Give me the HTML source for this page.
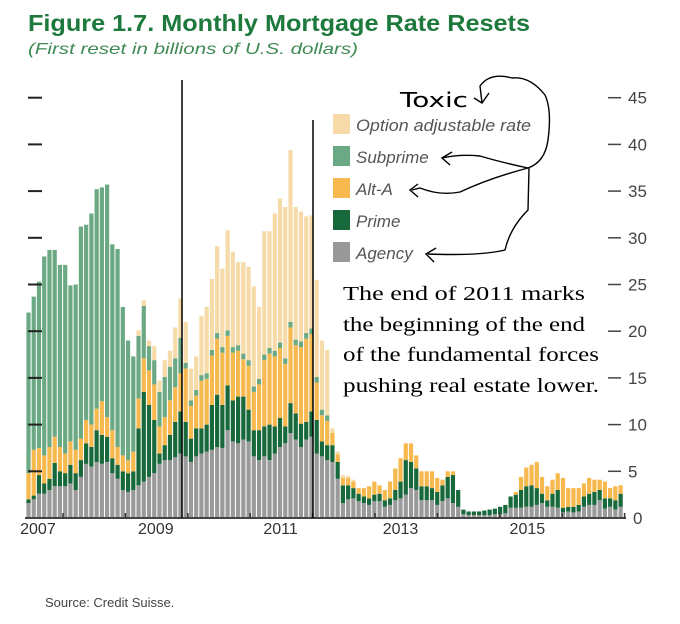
<!DOCTYPE html>
<html><head><meta charset="utf-8"><style>
html,body{margin:0;padding:0;background:#fff;width:680px;height:624px;overflow:hidden}
svg{display:block}
</style></head><body>
<svg id="chart" width="680" height="624" viewBox="0 0 680 624">
<text x="28" y="31" font-family="Liberation Sans, sans-serif" font-weight="bold" font-size="23" fill="#1d7a3c" textLength="502" lengthAdjust="spacingAndGlyphs">Figure 1.7. Monthly Mortgage Rate Resets</text>
<text x="28" y="54" font-family="Liberation Sans, sans-serif" font-style="italic" font-size="16" fill="#3f8a55" textLength="330" lengthAdjust="spacingAndGlyphs">(First reset in billions of U.S. dollars)</text>
<g id="bars"></g>
<g id="axes"></g>
<line x1="182" y1="80" x2="182" y2="518" stroke="#000" stroke-width="1.5"/>
<line x1="313" y1="120" x2="313" y2="518" stroke="#000" stroke-width="1.5"/>
<g font-family="Liberation Sans, sans-serif" font-style="italic" font-size="17" fill="#555">
 <g><rect x="333" y="114" width="17" height="20" fill="#f6dba8"/><text x="356" y="131" textLength="175" lengthAdjust="spacingAndGlyphs">Option adjustable rate</text></g>
 <g><rect x="333" y="146" width="17" height="20" fill="#6ba984"/><text x="356" y="163">Subprime</text></g>
 <g><rect x="333" y="178" width="17" height="20" fill="#f7b84e"/><text x="356" y="195">Alt-A</text></g>
 <g><rect x="333" y="210" width="17" height="20" fill="#17683a"/><text x="356" y="227">Prime</text></g>
 <g><rect x="333" y="242" width="17" height="20" fill="#999"/><text x="356" y="259">Agency</text></g>
</g>
<g font-family="Liberation Serif, serif" font-size="20" fill="#000">
 <text x="343" y="300" textLength="242" lengthAdjust="spacingAndGlyphs">The end of 2011 marks</text>
 <text x="343" y="331" textLength="242" lengthAdjust="spacingAndGlyphs">the beginning of the end</text>
 <text x="343" y="361" textLength="256" lengthAdjust="spacingAndGlyphs">of the fundamental forces</text>
 <text x="343" y="392" textLength="256" lengthAdjust="spacingAndGlyphs">pushing real estate lower.</text>
</g>
<g fill="none" stroke="#000" stroke-width="1.4">
 <text x="400" y="107" font-family="DejaVu Sans, sans-serif" font-size="20" fill="#000" stroke="none" textLength="68" lengthAdjust="spacingAndGlyphs">Toxic</text>
 <path d="M474 98 L482 103 L489 93 M482 103 L480 86 Q490 72 512 78 Q530 76 545 95 Q552 110 548 140 Q545 162 528 168"/>
 <path d="M528 168 Q500 162 480 156 Q460 154 442 158 M452 152 L442 158 L450 165"/>
 <path d="M528 168 Q490 178 460 192 Q440 196 420 188 L412 190 M418 184 L410 190 L418 197"/>
 <path d="M529 168 L528 210 Q510 228 505 250 Q480 256 428 254 M436 248 L426 254 L434 262"/>
</g>
<text x="45" y="607" font-family="Liberation Sans, sans-serif" font-size="13" fill="#444">Source: Credit Suisse.</text>
</svg>
<script>
const agency=[1.6,2.0,2.6,2.6,3.0,3.4,3.4,3.4,3.7,3.0,4.4,5.8,5.5,6.0,5.8,6.0,4.8,4.2,3.0,2.8,3.0,3.5,3.9,4.4,4.8,5.8,6.2,6.2,6.5,6.9,6.6,6.0,6.6,6.9,7.1,7.3,7.6,7.5,9.4,8.2,8.0,8.4,8.2,6.6,6.2,6.6,6.2,6.9,7.6,8.0,9.1,8.4,7.6,8.4,8.7,6.9,6.6,6.2,6.0,4.2,1.6,2.0,2.1,1.8,1.6,1.4,1.8,1.8,1.2,1.4,1.9,2.1,2.5,3.2,3.0,1.9,1.9,1.9,1.4,1.8,2.1,1.6,1.2,0.4,0.3,0.3,0.3,0.3,0.3,0.4,0.4,0.5,1.1,1.1,1.1,1.2,1.2,1.4,1.6,1.2,1.2,1.1,0.6,0.7,0.6,0.7,1.2,1.4,1.4,1.9,1.0,1.2,0.9,1.2];
const prime=[0.4,0.4,2.0,1.1,1.2,2.5,1.6,1.4,2.0,1.8,1.8,2.2,2.1,3.4,3.1,2.7,1.6,1.5,2.0,2.0,2.0,6.1,9.6,7.7,5.7,1.1,1.6,2.7,3.8,4.5,3.7,2.5,3.0,2.7,2.9,4.8,5.6,4.6,4.8,4.4,5.0,4.6,3.4,2.8,3.2,3.2,3.8,2.9,3.1,1.8,3.2,2.8,2.5,1.9,2.7,3.6,1.6,1.6,1.8,1.8,1.9,1.5,1.1,0.8,0.7,0.7,0.7,0.8,0.7,0.7,1.1,1.8,3.7,2.8,2.3,1.5,1.5,1.3,1.4,1.7,2.3,3.0,1.8,0.5,0.4,0.4,0.4,0.5,0.6,0.6,0.8,0.9,1.2,1.4,1.9,2.2,2.3,1.8,1.0,0.7,1.4,1.9,0.5,0.5,0.6,0.7,1.1,1.2,1.4,1.1,1.1,0.9,1.0,1.4];
const altA=[2.8,4.9,2.9,3.0,3.4,2.8,2.6,2.1,2.5,2.5,2.3,2.5,2.4,2.3,3.6,2.1,3.0,1.9,1.7,1.4,2.1,3.2,3.6,3.7,3.8,2.9,3.0,3.7,3.7,4.1,5.7,3.5,3.5,5.1,4.9,5.3,6.0,5.6,5.3,5.1,4.9,4.0,4.7,4.1,4.9,7.1,7.6,7.5,7.5,6.7,8.1,7.3,8.2,8.9,8.3,4.0,2.8,2.6,1.3,0.8,0.8,0.8,0.7,0.6,0.9,1.3,1.4,0.9,1.1,1.8,2.3,2.5,1.8,2.0,1.4,1.6,1.6,1.8,1.5,0.6,0.6,0.4,0,0,0,0,0,0,0,0,0,0,0,0.3,1.4,2.0,2.2,2.8,1.8,1.5,1.5,1.8,3.2,2.0,2.0,1.8,1.4,1.7,1.3,1.1,1.8,1.1,1.5,0.9];
const subprime=[17.2,16.4,17.8,21.3,21.1,20.0,19.5,20.2,16.7,17.7,22.7,20.9,22.6,23.5,22.9,24.9,19.9,21.2,15.9,12.8,10.2,6.7,5.6,2.6,2.6,3.7,4.3,3.6,3.1,3.8,0.6,0.6,0.6,0.6,0.6,0.6,0.6,0.6,0.6,0.6,0.6,0.6,0.6,0.6,0.6,0.6,0.6,0.6,0.6,0.6,0.6,0.6,0.6,0.6,0.6,0.6,0.6,0.6,0,0,0,0,0,0,0,0,0,0,0,0,0,0,0,0,0,0,0,0,0,0,0,0,0,0,0,0,0,0,0,0,0,0,0,0,0,0,0,0,0,0,0,0,0,0,0,0,0,0,0,0,0,0,0,0];
const optionArm=[0,0,0,0,0,0,0,0,0,0,0,0,0,0,0,0,0,0,0,0,0,0.6,0.6,0.6,1.5,1.2,1.8,1.7,3.3,4.2,4.4,3.4,3.6,6.3,7.1,7.6,9.3,8.4,10.7,10.2,8.9,9.8,10.0,10.7,7.7,13.2,12.5,14.7,15.4,16.2,18.4,14.2,13.9,12.5,12.1,10.4,7.4,7.0,0.5,0.3,0.3,0.2,0.2,0,0,0,0,0,0,0,0,0,0,0,0,0,0,0,0,0,0,0,0,0,0,0,0,0,0,0,0,0,0,0,0,0,0,0,0,0,0,0,0,0,0,0,0,0,0,0,0,0,0,0];
const seriesNames=['agency','prime','alt-a','subprime','option-arm'];
const seriesColors=['#9a9a9a','#17683a','#f7b84e','#6ba984','#f6dba8'];
const yTicks=[0,5,10,15,20,25,30,35,40,45];
const yearLabels=['2007','2009','2011','2013','2015'];
const yearLabelMonth=[2.2,24.7,48.5,71.4,95.6];

const NS='http://www.w3.org/2000/svg';
const x0=26.4, pitch=5.24, barW=4.2, yBase=518, pxPerUnit=9.34;
function xScale(i){return x0+i*pitch;}
function yScale(v){return yBase-v*pxPerUnit;}
const barsG=document.getElementById('bars');
const all=[agency,prime,altA,subprime,optionArm];
for(let i=0;i<agency.length;i++){
  let cum=0;
  for(let s=0;s<all.length;s++){
    const v=all[s][i]||0;
    if(v<=0) continue;
    const r=document.createElementNS(NS,'rect');
    r.setAttribute('x',xScale(i));
    r.setAttribute('y',yScale(cum+v));
    r.setAttribute('width',barW);
    r.setAttribute('height',v*pxPerUnit);
    r.setAttribute('fill',seriesColors[s]);
    
    
    barsG.appendChild(r);
    cum+=v;
  }
}
const ax=document.getElementById('axes');
function mk(tag,attrs){const e=document.createElementNS(NS,tag);for(const k in attrs)e.setAttribute(k,attrs[k]);ax.appendChild(e);return e;}
const base=mk('line',{x1:25,y1:yBase,x2:626,y2:yBase,stroke:'#444','stroke-width':2});


for(let k=0;k<=9;k++){
  const tx=63+k*62.4;
  const t=mk('line',{x1:tx,y1:yBase-5,x2:tx,y2:yBase,stroke:'#333','stroke-width':1.5});
  
  
}
yTicks.forEach(v=>{
  const y=yScale(v);
  if(v>0){
    const l=mk('line',{x1:28,y1:y,x2:42,y2:y,stroke:'#222','stroke-width':2});
    
    
    const r=mk('line',{x1:608,y1:y,x2:621,y2:y,stroke:'#444','stroke-width':1.5});
    
    
  }
  const t=mk('text',{x:v===0?633:628,y:y+6,'font-family':'Liberation Sans, sans-serif','font-size':17,fill:'#444'});
  t.textContent=String(v);
  
  
});
yearLabels.forEach((lab,j)=>{
  const t=mk('text',{x:xScale(yearLabelMonth[j]),y:534,'text-anchor':'middle','font-family':'Liberation Sans, sans-serif','font-size':16,fill:'#333'});
  t.textContent=lab;
  
  
});
</script>
</body></html>
